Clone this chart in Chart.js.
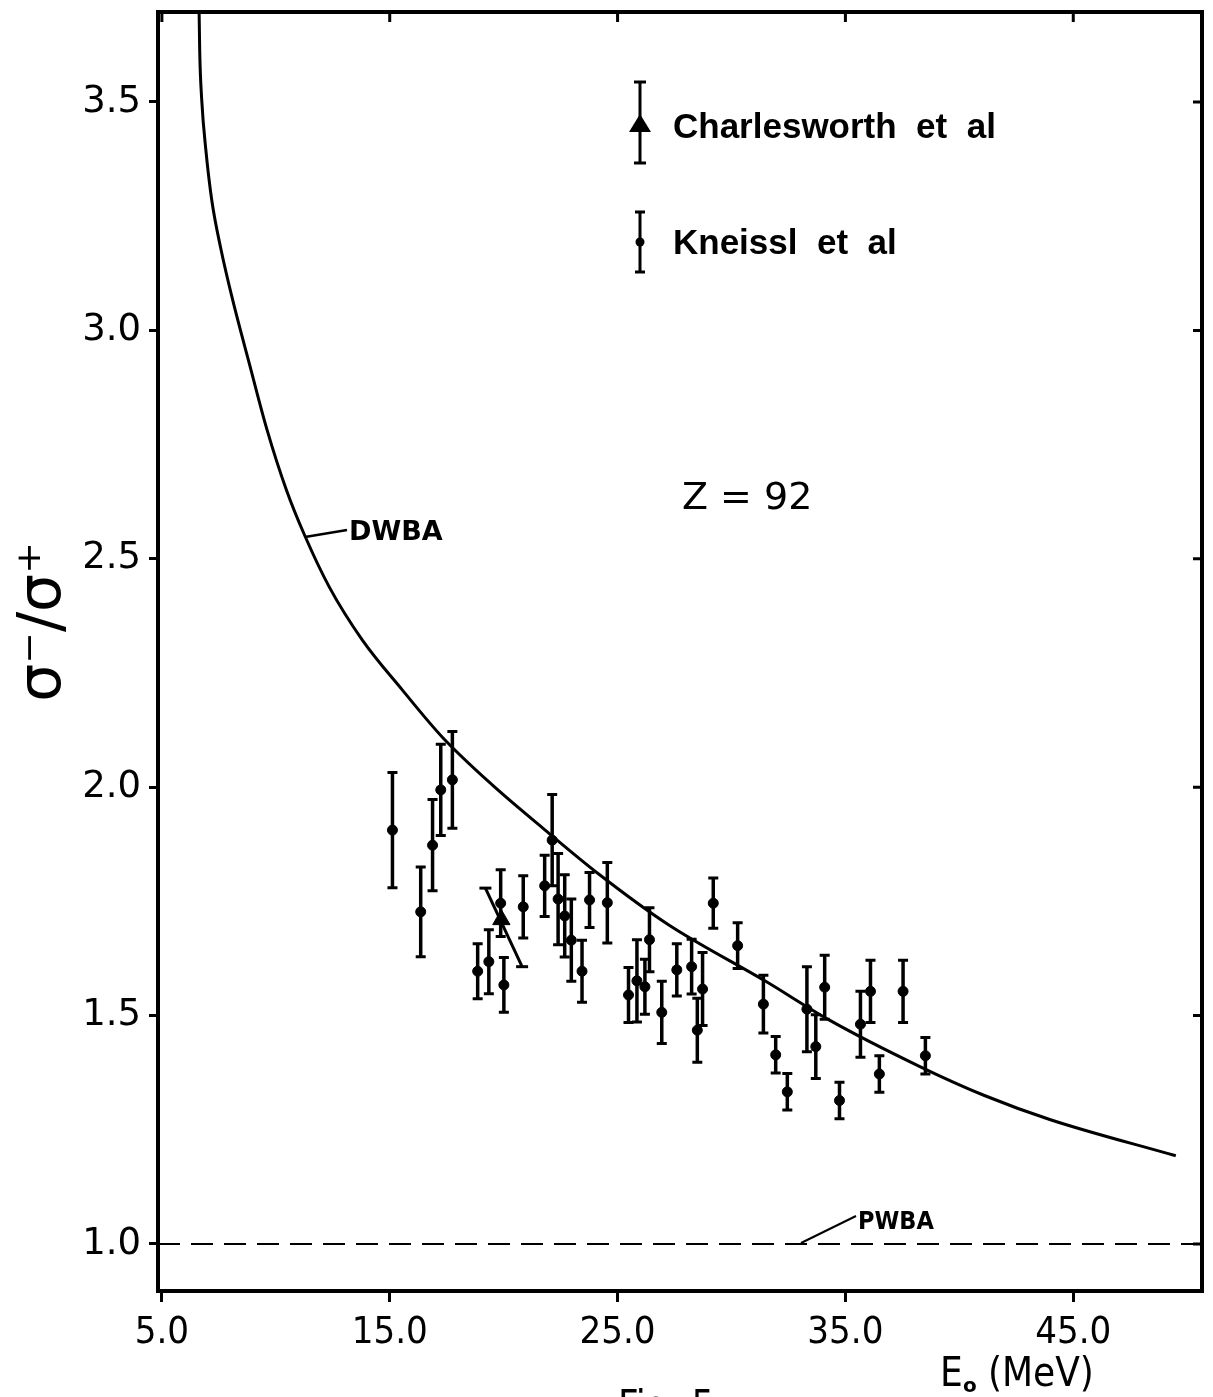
<!DOCTYPE html>
<html>
<head>
<meta charset="utf-8">
<script src="https://cdn.jsdelivr.net/npm/chart.js@4.4.1/dist/chart.umd.min.js"></script>
<style>
  html, body { margin: 0; padding: 0; background: #fff; }
  #wrap { width: 1213px; height: 1397px; }
</style>
</head>
<body>
<div id="wrap"><canvas id="ratioChart" width="1213" height="1397"></canvas></div>
<script>
// axis ticks
const xTicks = [5, 15, 25, 35, 45];
const yTicks = [1.0, 1.5, 2.0, 2.5, 3.0, 3.5];

// Kneissl et al : E0 (MeV), ratio, error
const kneisslE = [15.12, 16.36, 16.88, 17.24, 17.75, 18.86, 19.35, 19.87, 20.01, 20.86,
                  21.80, 22.13, 22.39, 22.68, 22.97, 23.44, 23.77, 24.55, 25.48, 25.85,
                  26.20, 26.40, 26.94, 27.60, 28.25, 28.50, 28.73, 29.20, 30.27, 31.40,
                  31.94, 32.45, 33.31, 33.70, 34.09, 34.74, 35.66, 36.10, 36.49, 37.53, 38.51];
const kneisslR = [1.906, 1.727, 1.873, 1.994, 2.016, 1.597, 1.618, 1.746, 1.567, 1.738,
                  1.784, 1.884, 1.755, 1.718, 1.665, 1.597, 1.753, 1.747, 1.545, 1.576,
                  1.563, 1.666, 1.507, 1.600, 1.607, 1.468, 1.558, 1.746, 1.653, 1.525,
                  1.414, 1.333, 1.514, 1.432, 1.562, 1.314, 1.481, 1.553, 1.372, 1.553, 1.412];
const kneisslErr = [0.126, 0.098, 0.100, 0.100, 0.106, 0.060, 0.070, 0.073, 0.060, 0.068,
                    0.067, 0.100, 0.100, 0.090, 0.090, 0.068, 0.060, 0.088, 0.060, 0.090,
                    0.060, 0.070, 0.068, 0.057, 0.060, 0.070, 0.080, 0.055, 0.050, 0.063,
                    0.040, 0.040, 0.093, 0.070, 0.070, 0.040, 0.072, 0.068, 0.040, 0.068, 0.040];

// Charlesworth et al (its error bar is drawn slanted in the figure)
const charlesE = [19.9];
const charlesR = [1.71];
const charlesBarE = [19.2, 20.81];
const charlesBarR = [1.779, 1.607];

// DWBA curve
const dwbaE = [6.62, 6.66, 6.75, 6.93, 7.19, 7.6, 8.11, 8.85, 9.6, 10.47, 11.26, 12.35, 13.8,
               15.55, 17.3, 19.5, 21.85, 24.17, 27.2, 31.5, 34.3, 38.2, 41.1, 44.0, 49.5];
const dwbaR = [3.75, 3.613, 3.504, 3.395, 3.285, 3.176, 3.066, 2.925, 2.785, 2.650, 2.552, 2.438, 2.322,
               2.213, 2.11, 2.005, 1.905, 1.81, 1.70, 1.575, 1.49, 1.39, 1.325, 1.272, 1.193];

// PWBA line
const pwbaE = [4.83, 50.65];
const pwbaR = [1.0, 1.0];

const xMin = 4.83, xMax = 50.65, yMin = 0.897, yMax = 3.697;

const pts = (xs, ys) => xs.map((x, i) => ({x: x, y: ys[i]}));

const errorBars = {
    id: 'errorBars',
    afterDatasetsDraw(chart) {
        const c = chart.ctx, xs = chart.scales.x, ys = chart.scales.y;
        c.save();
        c.strokeStyle = '#000';
        kneisslE.forEach((e, i) => {
            const px = xs.getPixelForValue(e);
            const top = ys.getPixelForValue(kneisslR[i] + kneisslErr[i]);
            const bot = ys.getPixelForValue(kneisslR[i] - kneisslErr[i]);
            c.lineWidth = 3.5;
            c.beginPath(); c.moveTo(px, top); c.lineTo(px, bot); c.stroke();
            c.lineWidth = 3;
            c.beginPath();
            c.moveTo(px - 5, top); c.lineTo(px + 5, top);
            c.moveTo(px - 5, bot); c.lineTo(px + 5, bot);
            c.stroke();
        });
        c.restore();
    }
};

const frameAndText = {
    id: 'frameAndText',
    afterDraw(chart) {
        const c = chart.ctx, a = chart.chartArea;
        const xs = chart.scales.x, ys = chart.scales.y;
        c.save();
        c.strokeStyle = '#000';
        c.fillStyle = '#000';
        // frame
        c.lineWidth = 4;
        c.strokeRect(a.left, a.top, a.right - a.left, a.bottom - a.top);
        // inward ticks on top and right
        c.lineWidth = 3;
        c.beginPath();
        xTicks.forEach(v => {
            const px = xs.getPixelForValue(v);
            c.moveTo(px, a.top); c.lineTo(px, a.top + 10);
        });
        yTicks.forEach(v => {
            const py = ys.getPixelForValue(v);
            c.moveTo(a.right, py); c.lineTo(a.right - 9, py);
        });
        c.stroke();

        // legend
        c.lineWidth = 3;
        c.beginPath();
        c.moveTo(640, 82); c.lineTo(640, 163);
        c.moveTo(634, 82); c.lineTo(646, 82);
        c.moveTo(634, 163); c.lineTo(646, 163);
        c.moveTo(640, 212); c.lineTo(640, 272);
        c.moveTo(635, 212); c.lineTo(645, 212);
        c.moveTo(635, 272); c.lineTo(645, 272);
        c.stroke();
        c.beginPath();
        c.moveTo(640, 114); c.lineTo(651, 132); c.lineTo(629, 132); c.closePath();
        c.fill();
        c.beginPath(); c.arc(640, 242, 4.5, 0, Math.PI * 2); c.fill();

        c.textBaseline = 'alphabetic';
        c.textAlign = 'left';
        c.font = 'bold 35px "Liberation Sans", Arial, sans-serif';
        c.fillText('Charlesworth  et  al', 673, 138);
        c.fillText('Kneissl  et  al', 673, 254);

        // Z = 92
        c.font = '38px "DejaVu Sans", sans-serif';
        c.fillText('Z = 92', 682, 509);

        // DWBA label + leader
        c.font = 'bold 27px "DejaVu Sans", sans-serif';
        c.fillText('DWBA', 349, 540);
        c.lineWidth = 2.5;
        c.beginPath(); c.moveTo(305, 537); c.lineTo(347, 530); c.stroke();

        // PWBA label + leader
        c.font = 'bold 25px "Liberation Sans Narrow", "DejaVu Sans Condensed", sans-serif';
        c.fillText('PWBA', 858, 1229);
        c.lineWidth = 2;
        c.beginPath(); c.moveTo(801, 1243); c.lineTo(856, 1216); c.stroke();

        // x axis title  E0 (MeV)
        c.font = '40px "Liberation Sans Narrow", "DejaVu Sans Condensed", sans-serif';
        c.fillText('E', 940, 1386);
        c.font = 'bold 20px "DejaVu Sans", sans-serif';
        c.fillText('o', 963, 1392);
        c.font = '40px "Liberation Sans Narrow", "DejaVu Sans Condensed", sans-serif';
        c.fillText('(MeV)', 988, 1386);

        // figure caption, cut off at the page edge
        c.font = '40px "Liberation Sans Narrow", "DejaVu Sans Condensed", sans-serif';
        c.fillText('Fig. 5', 618, 1419);

        // y axis title
        c.save();
        c.translate(60, 622);
        c.rotate(-Math.PI / 2);
        c.textAlign = 'center';
        c.font = '60px "DejaVu Sans", sans-serif';
        c.fillText('σ⁻/σ⁺', 0, 0);
        c.restore();
        c.restore();
    }
};

const ctx = document.getElementById('ratioChart').getContext('2d');
const chart = new Chart(ctx, {
    type: 'scatter',
    data: {
        datasets: [{
            label: 'DWBA',
            type: 'line',
            data: pts(dwbaE, dwbaR),
            borderColor: '#000',
            borderWidth: 3,
            pointRadius: 0,
            cubicInterpolationMode: 'monotone',
            fill: false
        }, {
            label: 'PWBA',
            type: 'line',
            data: pts(pwbaE, pwbaR),
            borderColor: '#000',
            borderWidth: 2,
            borderDash: [22, 11],
            pointRadius: 0,
            fill: false
        }, {
            label: 'Kneissl et al',
            data: pts(kneisslE, kneisslR),
            backgroundColor: '#000',
            borderColor: '#000',
            pointRadius: 5
        }, {
            label: 'Charlesworth bar',
            type: 'line',
            data: pts(charlesBarE, charlesBarR),
            borderColor: '#000',
            borderWidth: 3,
            pointStyle: 'line',
            pointRadius: 6,
            pointBorderWidth: 3,
            pointBorderColor: '#000'
        }, {
            label: 'Charlesworth et al',
            data: pts(charlesE, charlesR),
            pointStyle: 'triangle',
            backgroundColor: '#000',
            borderColor: '#000',
            pointRadius: 10
        }]
    },
    plugins: [errorBars, frameAndText],
    options: {
        responsive: false,
        animation: false,
        devicePixelRatio: 1,
        layout: {padding: {top: 12, right: 8, left: 0, bottom: 0}},
        plugins: {legend: {display: false}, tooltip: {enabled: false}},
        scales: {
            x: {
                type: 'linear',
                min: xMin,
                max: xMax,
                afterFit: s => { s.height = 106; s.paddingLeft = 0; s.paddingRight = 0; },
                afterBuildTicks: s => { s.ticks = xTicks.map(v => ({value: v})); },
                border: {display: false},
                grid: {drawOnChartArea: false, drawTicks: true, tickLength: 11, tickWidth: 3, color: '#000'},
                ticks: {
                    color: '#000',
                    padding: 8,
                    maxRotation: 0,
                    font: {family: '"Liberation Sans Narrow", "DejaVu Sans Condensed", sans-serif', size: 38},
                    callback: v => v.toFixed(1)
                }
            },
            y: {
                type: 'linear',
                min: yMin,
                max: yMax,
                afterFit: s => { s.width = 158; s.paddingTop = 0; s.paddingBottom = 0; },
                afterBuildTicks: s => { s.ticks = yTicks.map(v => ({value: v})); },
                border: {display: false},
                grid: {drawOnChartArea: false, drawTicks: true, tickLength: 9, tickWidth: 3, color: '#000'},
                ticks: {
                    color: '#000',
                    padding: 8,
                    font: {family: '"DejaVu Sans", sans-serif', size: 37},
                    callback: v => v.toFixed(1)
                }
            }
        }
    }
});
</script>
</body>
</html>
